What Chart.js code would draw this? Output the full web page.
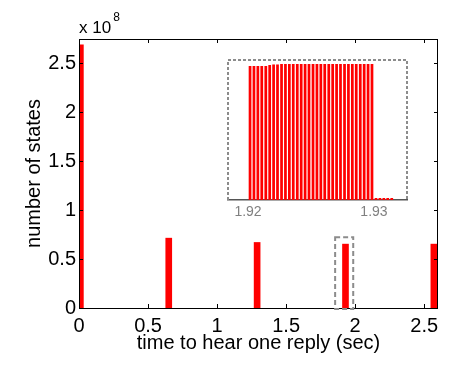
<!DOCTYPE html>
<html>
<head>
<meta charset="utf-8">
<script src="https://cdn.jsdelivr.net/npm/chart.js@4.4.0/dist/chart.umd.min.js"></script>
<style>
  html, body { margin: 0; padding: 0; background: #fff; }
  #wrap { position: relative; width: 465px; height: 369px; }
  #mainChart { position: absolute; left: 0; top: 0; }
  #insetChart { position: absolute; left: 215px; top: 50px; }
</style>
</head>
<body>
<div id="wrap">
  <canvas id="mainChart" width="465" height="369"></canvas>
  <canvas id="insetChart" width="205" height="175"></canvas>
</div>
<script>
// main histogram: time to hear one reply (sec) vs number of states (x 1e8)
const mainTimes = [0.01, 0.65, 1.29, 1.93, 2.57];
const mainCounts = [2.69, 0.714, 0.670, 0.653, 0.653];
const mainXTicks = [0, 0.5, 1, 1.5, 2, 2.5];
const mainYTicks = [0, 0.5, 1, 1.5, 2, 2.5];

// zoomed-in view of the cluster near 1.92 s (counts x 1e6)
const insetTimes = [
  1.92016, 1.92047, 1.92078, 1.92109, 1.92141, 1.92172, 1.92203, 1.92234,
  1.92266, 1.92297, 1.92328, 1.92359, 1.92391, 1.92422, 1.92453, 1.92484,
  1.92516, 1.92547, 1.92578, 1.92609, 1.92641, 1.92672, 1.92703, 1.92734,
  1.92766, 1.92797, 1.92828, 1.92859, 1.92891, 1.92922, 1.92953, 1.92984,
  1.93016, 1.93047, 1.93078, 1.93109, 1.93141
];
const insetCounts = [
  2.01, 2.01, 2.01, 2.01, 2.01, 2.025, 2.033, 2.033,
  2.04, 2.04, 2.04, 2.04, 2.04, 2.04, 2.04, 2.04,
  2.04, 2.04, 2.04, 2.04, 2.04, 2.04, 2.04, 2.04,
  2.04, 2.04, 2.04, 2.04, 2.04, 2.04, 2.04, 2.04,
  0.03, 0.03, 0.03, 0.03, 0.03
];
const insetXTicks = [1.92, 1.93];

const FONT = '"Liberation Sans", Arial, Helvetica, sans-serif';
const red = '#ff0000';
const boxGray = '#8c8c8c';
const plainNum = v => String(+Number(v).toFixed(3));

// box, inward ticks, exponent label and the dashed zoom marker
const matlabAxes = {
  id: 'matlabAxes',
  afterDraw(chart) {
    const { ctx, chartArea: a, scales: { x, y } } = chart;
    const tl = 4;
    ctx.save();
    ctx.strokeStyle = '#000';
    ctx.lineWidth = 1;
    ctx.strokeRect(a.left + 0.5, a.top + 0.5, a.right - a.left - 1, a.bottom - a.top);
    ctx.beginPath();
    x.ticks.forEach(t => {
      const px = Math.round(x.getPixelForValue(t.value)) + 0.5;
      ctx.moveTo(px, a.bottom); ctx.lineTo(px, a.bottom - tl);
      ctx.moveTo(px, a.top); ctx.lineTo(px, a.top + tl);
    });
    y.ticks.forEach(t => {
      const py = Math.round(y.getPixelForValue(t.value)) + 0.5;
      ctx.moveTo(a.left, py); ctx.lineTo(a.left + tl, py);
      ctx.moveTo(a.right, py); ctx.lineTo(a.right - tl, py);
    });
    ctx.stroke();

    // dashed rectangle marking the zoomed region
    ctx.strokeStyle = boxGray;
    ctx.lineWidth = 2;
    ctx.setLineDash([5, 3]);
    const x0 = x.getPixelForValue(1.855), x1 = x.getPixelForValue(1.986);
    const y0 = y.getPixelForValue(0.724), y1 = y.getPixelForValue(-0.01);
    ctx.strokeRect(x0, y0, x1 - x0, y1 - y0);
    ctx.setLineDash([]);

    // exponent
    ctx.fillStyle = '#000';
    ctx.textBaseline = 'alphabetic';
    ctx.font = '17px ' + FONT;
    ctx.fillText('x 10', a.left, 33);
    const w = ctx.measureText('x 10').width;
    ctx.font = '12px ' + FONT;
    ctx.fillText('8', a.left + w + 2, 21);
    ctx.restore();
  }
};

const insetBox = {
  id: 'insetBox',
  afterDraw(chart) {
    const { ctx, chartArea: a } = chart;
    ctx.save();
    ctx.strokeStyle = boxGray;
    ctx.lineWidth = 2;
    ctx.setLineDash([3, 2]);
    ctx.beginPath();
    ctx.moveTo(a.left, a.bottom);
    ctx.lineTo(a.left, a.top);
    ctx.lineTo(a.right, a.top);
    ctx.lineTo(a.right, a.bottom);
    ctx.stroke();
    ctx.restore();
  }
};

new Chart(document.getElementById('mainChart'), {
  type: 'bar',
  data: {
    datasets: [{
      data: mainTimes.map((t, i) => ({ x: t, y: mainCounts[i] })),
      backgroundColor: red,
      borderWidth: 0,
      barThickness: 6
    }]
  },
  options: {
    responsive: false,
    devicePixelRatio: 1,
    animation: false,
    layout: { padding: { top: 39, right: 27, left: 0, bottom: 0 } },
    plugins: { legend: { display: false }, tooltip: { enabled: false } },
    scales: {
      x: {
        type: 'linear',
        offset: false,
        min: 0,
        max: 2.6,
        afterBuildTicks: s => { s.ticks = mainXTicks.map(v => ({ value: v })); },
        afterFit: s => { s.height = 61; },
        grid: { display: false, drawTicks: false, offset: false },
        border: { display: false },
        ticks: { color: '#000', padding: 6, font: { family: FONT, size: 20 }, callback: plainNum },
        title: {
          display: true,
          text: 'time to hear one reply (sec)',
          color: '#000',
          font: { family: FONT, size: 20 },
          padding: { top: 0, bottom: 14 }
        }
      },
      y: {
        min: 0,
        max: 2.75,
        afterBuildTicks: s => { s.ticks = mainYTicks.map(v => ({ value: v })); },
        afterFit: s => { s.width = 79; },
        grid: { display: false, drawTicks: false },
        border: { display: false },
        ticks: { color: '#000', padding: 3, font: { family: FONT, size: 20 }, callback: plainNum },
        title: {
          display: true,
          text: 'number of states',
          color: '#000',
          font: { family: FONT, size: 20 },
          padding: { top: 22, bottom: 0 }
        }
      }
    }
  },
  plugins: [matlabAxes]
});

new Chart(document.getElementById('insetChart'), {
  type: 'bar',
  data: {
    datasets: [{
      data: insetTimes.map((t, i) => ({ x: t, y: insetCounts[i] })),
      backgroundColor: red,
      borderWidth: 0,
      categoryPercentage: 1,
      barPercentage: 0.7
    }]
  },
  options: {
    responsive: false,
    devicePixelRatio: 1,
    animation: false,
    layout: { padding: { top: 10, right: 13, left: 13, bottom: 0 } },
    plugins: { legend: { display: false }, tooltip: { enabled: false } },
    scales: {
      x: {
        type: 'linear',
        offset: false,
        min: 1.91841,
        max: 1.93262,
        afterBuildTicks: s => { s.ticks = insetXTicks.map(v => ({ value: v })); },
        afterFit: s => { s.height = 25; },
        grid: { display: false, drawTicks: false, offset: false },
        border: { display: true, color: '#555', width: 1.5 },
        ticks: { color: '#808080', padding: 4, font: { family: FONT, size: 14 }, callback: plainNum }
      },
      y: {
        display: false,
        min: 0,
        max: 2.1
      }
    }
  },
  plugins: [insetBox]
});
</script>
</body>
</html>
